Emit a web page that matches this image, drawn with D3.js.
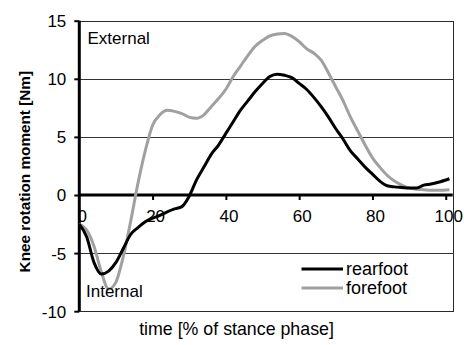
<!DOCTYPE html>
<html>
<head>
<meta charset="utf-8">
<script src="https://cdn.jsdelivr.net/npm/d3@7"></script>
<style>
  html, body { margin: 0; padding: 0; background: #fff; }
  svg { display: block; font-family: "Liberation Sans", Arial, sans-serif; }
</style>
</head>
<body>
<svg id="chart" width="464" height="345"></svg>
<script>
// ---- data ----
const time = [0, 2, 4, 6, 8, 10, 12, 14, 16, 18, 20, 22, 24, 26, 28, 30, 32, 34, 36, 38, 40,
  42, 44, 46, 48, 50, 52, 54, 56, 58, 60, 62, 64, 66, 68, 70, 72, 74, 76, 78, 80,
  82, 84, 86, 88, 90, 92, 94, 96, 98, 101];
const rearfoot = [-2.5, -3.6, -5.8, -6.8, -6.55, -5.8, -4.6, -3.4, -2.8, -2.3, -2.0, -1.75, -1.45, -1.2, -1.0, -0.1, 1.3, 2.4, 3.5, 4.3, 5.3,
  6.3, 7.3, 8.1, 8.9, 9.6, 10.2, 10.4, 10.3, 10.1, 9.6, 9.1, 8.4, 7.6, 6.7, 5.7, 4.8, 3.8, 3.1, 2.4, 1.8,
  1.2, 0.8, 0.7, 0.65, 0.6, 0.6, 0.85, 0.95, 1.1, 1.4];
const forefoot = [-2.5, -3.0, -4.4, -6.6, -8.1, -7.5, -5.3, -2.3, 1.0, 3.8, 6.0, 6.9, 7.3, 7.2, 7.0, 6.7, 6.6, 6.9, 7.6, 8.3, 9.1,
  10.2, 11.1, 12.0, 12.8, 13.3, 13.7, 13.85, 13.9, 13.65, 13.2, 12.6, 12.2, 11.6, 10.5, 9.3, 8.1, 6.7, 5.5, 4.3, 3.2,
  2.4, 1.7, 1.2, 0.85, 0.6, 0.5, 0.45, 0.4, 0.4, 0.45];
const xTicks = [0, 20, 40, 60, 80, 100];
const yTicks = [-10, -5, 0, 5, 10, 15];
const seriesNames = ["rearfoot", "forefoot"];
const yTitle = "Knee rotation moment [Nm]";
const xTitle = "time [% of stance phase]";
const notes = ["External", "Internal"];

// ---- layout ----
const svg = d3.select("#chart");
const pL = 79.3, pR = 452.7, pT = 20.7, pB = 311.2;
const x = d3.scaleLinear().domain([0, 101.9]).range([pL, pR]);
const y = d3.scaleLinear().domain([-10, 15]).range([pB, pT]);
const colors = { rearfoot: "#000000", forefoot: "#a0a0a0" };
const FS = 17;
const crisp = v => Math.round(v) + 0.5;

// plot frame: top, right, bottom
svg.append("path")
  .attr("d", `M${pL},${crisp(y(15))}H${crisp(pR)}V${crisp(y(-10))}H${pL}`)
  .attr("fill", "none").attr("stroke", "#2a2a2a").attr("stroke-width", 1)
  .attr("shape-rendering", "crispEdges");

// gridlines
svg.append("g").selectAll("line").data(yTicks.filter(d => d === 5 || d === 10 || d === -5)).join("line")
  .attr("x1", pL).attr("x2", crisp(pR))
  .attr("y1", d => crisp(y(d))).attr("y2", d => crisp(y(d)))
  .attr("stroke", "#333").attr("stroke-width", 1)
  .attr("shape-rendering", "crispEdges");

// y axis
const yAxis = d3.axisLeft(y).tickValues(yTicks).tickSize(5).tickPadding(8).tickFormat(d => String(d));
const gy = svg.append("g").attr("transform", `translate(${pL},0)`).call(yAxis);
gy.select(".domain").attr("stroke", "#000").attr("stroke-width", 3).attr("d", `M0,${pT}V${pB}`);
gy.selectAll(".tick line").attr("stroke", "#000").attr("stroke-width", 2);
gy.selectAll(".tick text").attr("font-size", FS).attr("fill", "#000")
  .attr("font-family", "Liberation Sans, Arial, sans-serif").attr("dy", "0.35em");

// x axis at y=0
const xAxis = d3.axisBottom(x).tickValues(xTicks).tickSize(5).tickPadding(10).tickFormat(d => String(d));
const gx = svg.append("g").attr("transform", `translate(0,${y(0)})`).call(xAxis);
gx.select(".domain").attr("stroke", "#000").attr("stroke-width", 3).attr("d", `M${pL},0H${pR}`);
gx.selectAll(".tick line").attr("stroke", "#000").attr("stroke-width", 2)
  .attr("display", d => d === 0 ? "none" : null);
gx.selectAll(".tick text").attr("font-size", FS).attr("fill", "#000")
  .attr("font-family", "Liberation Sans, Arial, sans-serif").attr("dx", 2.5);

// lines
const line = d3.line().x((d, i) => x(time[i])).y(d => y(d)).curve(d3.curveMonotoneX);
const seriesData = { rearfoot, forefoot };
svg.append("g").selectAll("path").data(["forefoot", "rearfoot"]).join("path")
  .attr("d", k => line(seriesData[k]))
  .attr("fill", "none").attr("stroke", k => colors[k]).attr("stroke-width", 3)
  .attr("stroke-linejoin", "round");

// annotations
svg.append("text").attr("x", 87.5).attr("y", 43.5).attr("font-size", FS).text(notes[0]);
svg.append("text").attr("x", 86).attr("y", 297).attr("font-size", FS).text(notes[1]);

// legend
const lg = svg.append("g");
seriesNames.forEach((k, i) => {
  const ly = 269 + i * 19;
  lg.append("line").attr("x1", 301.5).attr("x2", 343).attr("y1", ly).attr("y2", ly)
    .attr("stroke", colors[k]).attr("stroke-width", 3);
  lg.append("text").attr("x", 346).attr("y", ly).attr("dy", "0.35em").attr("font-size", 18).text(k);
});

// titles
svg.append("text").attr("transform", `translate(30,171.7) rotate(-90)`)
  .attr("text-anchor", "middle").attr("font-size", 15.3).attr("font-weight", "bold").text(yTitle);
svg.append("text").attr("x", 236.5).attr("y", 335).attr("text-anchor", "middle")
  .attr("font-size", 17.8).text(xTitle);
</script>
</body>
</html>
